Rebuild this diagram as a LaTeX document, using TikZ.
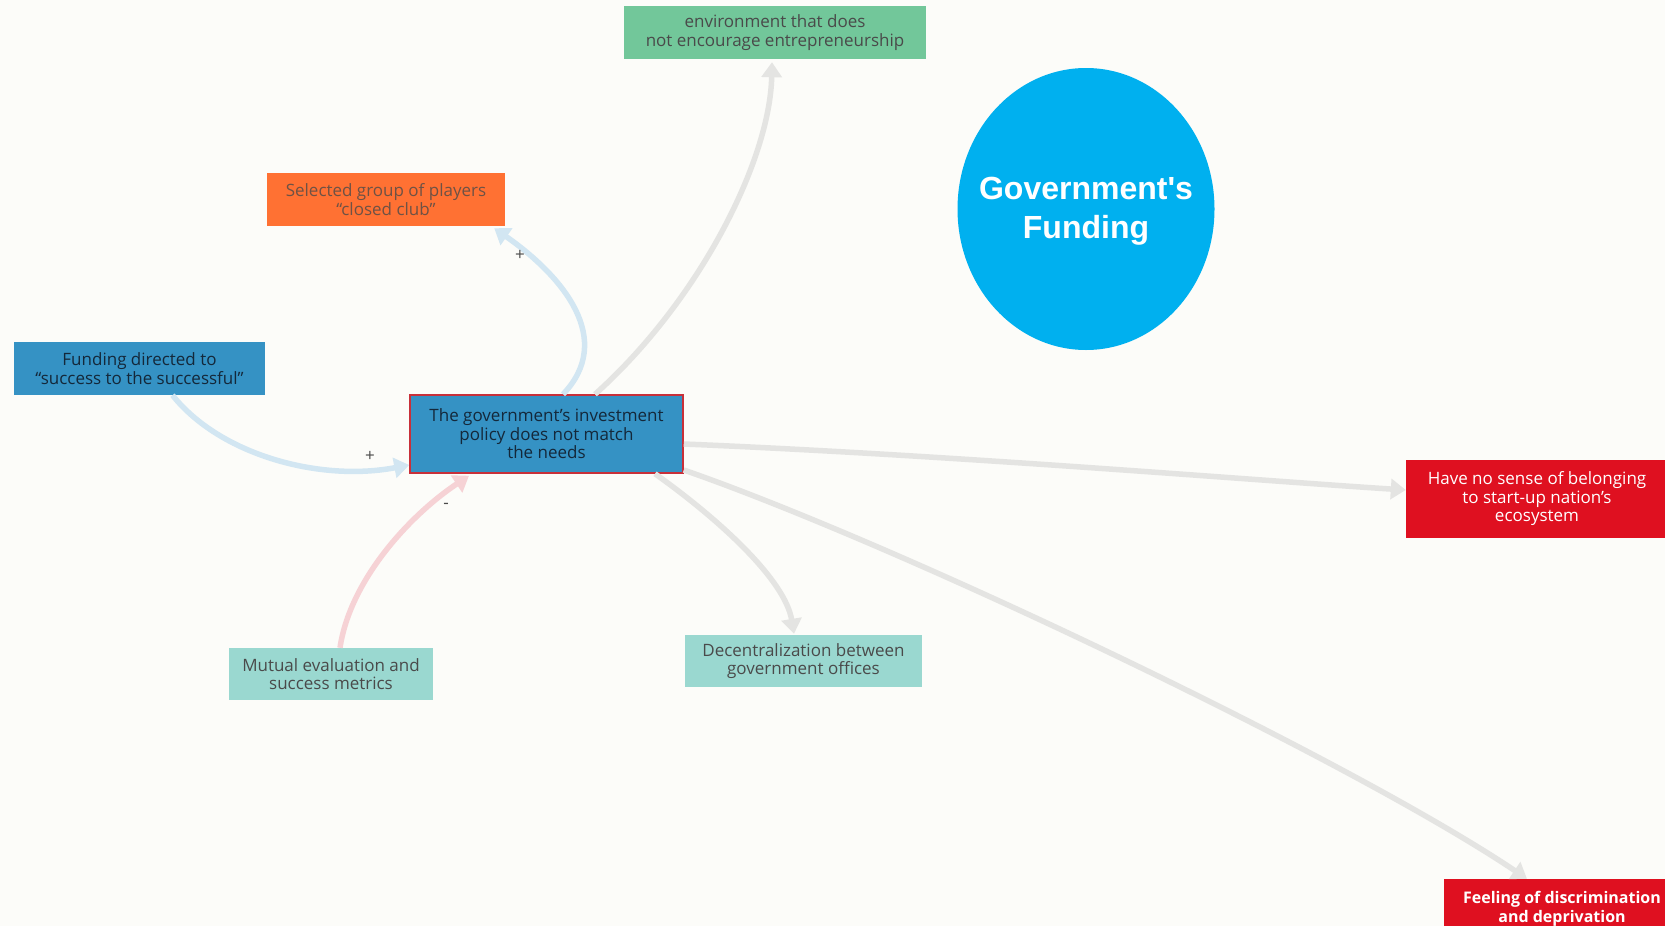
\documentclass[tikz,border=0pt]{standalone}
\usepackage{fontspec}
\setmainfont{Open Sans}
\newfontfamily\titlefont{Liberation Sans}
\usetikzlibrary{arrows.meta,shapes.geometric}
\definecolor{bg}{HTML}{FCFCF9}
\definecolor{greenbox}{HTML}{72C79A}
\definecolor{orangebox}{HTML}{FF7133}
\definecolor{bluebox}{HTML}{3592C4}
\definecolor{tealbox}{HTML}{9AD8D0}
\definecolor{redbox}{HTML}{DF1020}
\definecolor{redborder}{HTML}{C8303A}
\definecolor{circ}{HTML}{00B0EF}
\definecolor{bluearr}{HTML}{D2E6F2}
\definecolor{greyarr}{HTML}{E4E4E2}
\definecolor{redarr}{HTML}{F6D2D5}
\definecolor{darktext}{HTML}{4A4A4A}
\definecolor{navytext}{HTML}{14283A}
\tikzset{
  box/.style={rectangle, inner sep=0pt, align=center, font=\fontsize{17}{18.5}\selectfont},
  conn/.style={line width=5.5pt, -{Triangle[length=15pt,width=20pt]}},
  sign/.style={font=\fontsize{17}{17}\selectfont, text=darktext}
}
\begin{document}
\begin{tikzpicture}[x=1pt,y=-1pt]
\fill[bg] (0,0) rectangle (1665,926);
\useasboundingbox (0,0) rectangle (1665,926);
\clip (0,0) rectangle (1665,926);

\node[box, fill=greenbox, text=darktext, minimum width=302pt, minimum height=53pt] (green) at (775,32.5) {environment that does\\not encourage entrepreneurship};
\node[box, fill=orangebox, text=darktext!80!orangebox, minimum width=238pt, minimum height=53pt] (orange) at (386,199.5) {Selected group of players\\“closed club”};
\node[box, fill=bluebox, text=navytext, minimum width=251pt, minimum height=53pt] (funding) at (139.5,368.5) {Funding directed to\\“success to the successful”};
\node[box, fill=bluebox, text=navytext, draw=redborder, line width=1.5pt, minimum width=273pt, minimum height=78pt] (central) at (546.5,434) {The government's investment\\policy does not match\\the needs};
\node[box, fill=tealbox, text=darktext, minimum width=204pt, minimum height=52pt] (mutual) at (331,674) {Mutual evaluation and\\success metrics};
\node[box, fill=tealbox, text=darktext, minimum width=237pt, minimum height=52pt] (decent) at (803.5,661) {Decentralization between\\government offices};
\node[box, fill=redbox, text=white, minimum width=262pt, minimum height=78pt] (have) at (1537,499) {Have no sense of belonging\\to start-up nation’s\\ecosystem};
\node[box, fill=redbox, text=white, font=\bfseries\fontsize{16}{18.5}\selectfont, minimum width=236pt, minimum height=60pt] (feeling) at (1562,909) {Feeling of discrimination\\and deprivation};
\node[ellipse, fill=circ, minimum width=257pt, minimum height=282pt, inner sep=0pt] (circle) at (1086,209) {};
\node[align=center, text=white, inner sep=0pt, font=\titlefont\bfseries\fontsize{32}{38.5}\selectfont] (title) at ([yshift=-2pt]circle.center) {Government's\\Funding};

\draw[conn, bluearr] ([xshift=33pt]funding.south) .. controls (220,455) and (320,482) .. ([yshift=-31pt]central.west);
\draw[conn, bluearr] ([xshift=16.5pt]central.north) .. controls (615,340) and (564,277) .. ([xshift=-11pt,yshift=-2pt]orange.south east);
\draw[conn, greyarr] ([xshift=48.5pt]central.north) .. controls (700,300) and (770,160) .. ([xshift=-3pt,yshift=-3pt]green.south);
\draw[conn, redarr] ([xshift=9pt]mutual.north) .. controls (350,580) and (410,515) .. ([xshift=-77.5pt,yshift=-2pt]central.south);
\draw[conn, greyarr] ([xshift=108.5pt]central.south) .. controls (720,520) and (785,580) .. ([xshift=-9.5pt,yshift=1pt]decent.north);
\draw[conn, greyarr] ([yshift=-10pt]central.east) .. controls (950,455) and (1250,480) .. ([yshift=9pt]have.west);
\draw[conn, greyarr] ([yshift=-36pt]central.east) .. controls (900,545) and (1350,760) .. ([xshift=-35pt]feeling.north);

\node[sign] (s1) at (370,456) {+};
\node[sign] (s2) at (520,255) {+};
\node[sign] (s3) at (446,506) {-};
\end{tikzpicture}
\end{document}
